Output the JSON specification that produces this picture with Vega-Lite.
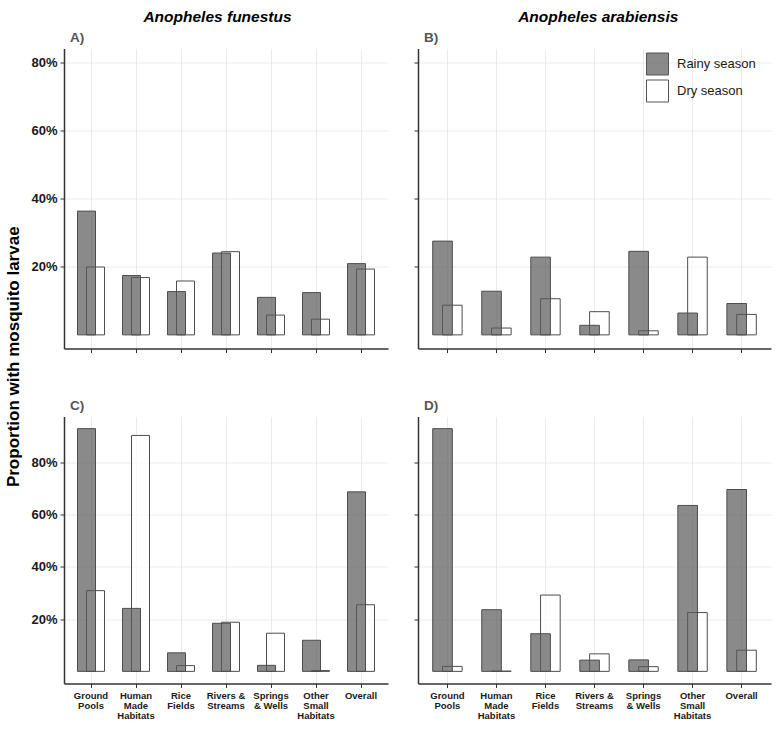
{
  "$schema": "https://vega.github.io/schema/vega-lite/v6.json",
  "padding": {"left": 4, "top": 9.5, "right": 8, "bottom": 4},
  "background": "#ffffff",
  "title": {"text": "Proportion with mosquito larvae", "orient": "left", "anchor": "middle", "fontSize": 17, "fontWeight": "bold", "color": "#000000", "font": "Liberation Sans", "offset": 8, "dx": 8},
  "datasets": {
    "larvae": [
      {"panel": "A", "species": "Anopheles funestus", "habitat": "Ground Pools", "season": "Dry season", "proportion": 0.199},
      {"panel": "A", "species": "Anopheles funestus", "habitat": "Human Made Habitats", "season": "Dry season", "proportion": 0.168},
      {"panel": "A", "species": "Anopheles funestus", "habitat": "Rice Fields", "season": "Dry season", "proportion": 0.158},
      {"panel": "A", "species": "Anopheles funestus", "habitat": "Rivers & Streams", "season": "Dry season", "proportion": 0.244},
      {"panel": "A", "species": "Anopheles funestus", "habitat": "Springs & Wells", "season": "Dry season", "proportion": 0.058},
      {"panel": "A", "species": "Anopheles funestus", "habitat": "Other Small Habitats", "season": "Dry season", "proportion": 0.046},
      {"panel": "A", "species": "Anopheles funestus", "habitat": "Overall", "season": "Dry season", "proportion": 0.193},
      {"panel": "A", "species": "Anopheles funestus", "habitat": "Ground Pools", "season": "Rainy season", "proportion": 0.363},
      {"panel": "A", "species": "Anopheles funestus", "habitat": "Human Made Habitats", "season": "Rainy season", "proportion": 0.174},
      {"panel": "A", "species": "Anopheles funestus", "habitat": "Rice Fields", "season": "Rainy season", "proportion": 0.127},
      {"panel": "A", "species": "Anopheles funestus", "habitat": "Rivers & Streams", "season": "Rainy season", "proportion": 0.240},
      {"panel": "A", "species": "Anopheles funestus", "habitat": "Springs & Wells", "season": "Rainy season", "proportion": 0.110},
      {"panel": "A", "species": "Anopheles funestus", "habitat": "Other Small Habitats", "season": "Rainy season", "proportion": 0.124},
      {"panel": "A", "species": "Anopheles funestus", "habitat": "Overall", "season": "Rainy season", "proportion": 0.209},

      {"panel": "B", "species": "Anopheles arabiensis", "habitat": "Ground Pools", "season": "Dry season", "proportion": 0.087},
      {"panel": "B", "species": "Anopheles arabiensis", "habitat": "Human Made Habitats", "season": "Dry season", "proportion": 0.020},
      {"panel": "B", "species": "Anopheles arabiensis", "habitat": "Rice Fields", "season": "Dry season", "proportion": 0.106},
      {"panel": "B", "species": "Anopheles arabiensis", "habitat": "Rivers & Streams", "season": "Dry season", "proportion": 0.068},
      {"panel": "B", "species": "Anopheles arabiensis", "habitat": "Springs & Wells", "season": "Dry season", "proportion": 0.012},
      {"panel": "B", "species": "Anopheles arabiensis", "habitat": "Other Small Habitats", "season": "Dry season", "proportion": 0.228},
      {"panel": "B", "species": "Anopheles arabiensis", "habitat": "Overall", "season": "Dry season", "proportion": 0.060},
      {"panel": "B", "species": "Anopheles arabiensis", "habitat": "Ground Pools", "season": "Rainy season", "proportion": 0.275},
      {"panel": "B", "species": "Anopheles arabiensis", "habitat": "Human Made Habitats", "season": "Rainy season", "proportion": 0.128},
      {"panel": "B", "species": "Anopheles arabiensis", "habitat": "Rice Fields", "season": "Rainy season", "proportion": 0.228},
      {"panel": "B", "species": "Anopheles arabiensis", "habitat": "Rivers & Streams", "season": "Rainy season", "proportion": 0.028},
      {"panel": "B", "species": "Anopheles arabiensis", "habitat": "Springs & Wells", "season": "Rainy season", "proportion": 0.245},
      {"panel": "B", "species": "Anopheles arabiensis", "habitat": "Other Small Habitats", "season": "Rainy season", "proportion": 0.064},
      {"panel": "B", "species": "Anopheles arabiensis", "habitat": "Overall", "season": "Rainy season", "proportion": 0.092},

      {"panel": "C", "species": "Anopheles funestus", "habitat": "Ground Pools", "season": "Dry season", "proportion": 0.309},
      {"panel": "C", "species": "Anopheles funestus", "habitat": "Human Made Habitats", "season": "Dry season", "proportion": 0.903},
      {"panel": "C", "species": "Anopheles funestus", "habitat": "Rice Fields", "season": "Dry season", "proportion": 0.022},
      {"panel": "C", "species": "Anopheles funestus", "habitat": "Rivers & Streams", "season": "Dry season", "proportion": 0.188},
      {"panel": "C", "species": "Anopheles funestus", "habitat": "Springs & Wells", "season": "Dry season", "proportion": 0.146},
      {"panel": "C", "species": "Anopheles funestus", "habitat": "Other Small Habitats", "season": "Dry season", "proportion": 0.003},
      {"panel": "C", "species": "Anopheles funestus", "habitat": "Overall", "season": "Dry season", "proportion": 0.255},
      {"panel": "C", "species": "Anopheles funestus", "habitat": "Ground Pools", "season": "Rainy season", "proportion": 0.929},
      {"panel": "C", "species": "Anopheles funestus", "habitat": "Human Made Habitats", "season": "Rainy season", "proportion": 0.241},
      {"panel": "C", "species": "Anopheles funestus", "habitat": "Rice Fields", "season": "Rainy season", "proportion": 0.071},
      {"panel": "C", "species": "Anopheles funestus", "habitat": "Rivers & Streams", "season": "Rainy season", "proportion": 0.184},
      {"panel": "C", "species": "Anopheles funestus", "habitat": "Springs & Wells", "season": "Rainy season", "proportion": 0.023},
      {"panel": "C", "species": "Anopheles funestus", "habitat": "Other Small Habitats", "season": "Rainy season", "proportion": 0.119},
      {"panel": "C", "species": "Anopheles funestus", "habitat": "Overall", "season": "Rainy season", "proportion": 0.687},

      {"panel": "D", "species": "Anopheles arabiensis", "habitat": "Ground Pools", "season": "Dry season", "proportion": 0.019},
      {"panel": "D", "species": "Anopheles arabiensis", "habitat": "Human Made Habitats", "season": "Dry season", "proportion": 0.001},
      {"panel": "D", "species": "Anopheles arabiensis", "habitat": "Rice Fields", "season": "Dry season", "proportion": 0.292},
      {"panel": "D", "species": "Anopheles arabiensis", "habitat": "Rivers & Streams", "season": "Dry season", "proportion": 0.067},
      {"panel": "D", "species": "Anopheles arabiensis", "habitat": "Springs & Wells", "season": "Dry season", "proportion": 0.018},
      {"panel": "D", "species": "Anopheles arabiensis", "habitat": "Other Small Habitats", "season": "Dry season", "proportion": 0.225},
      {"panel": "D", "species": "Anopheles arabiensis", "habitat": "Overall", "season": "Dry season", "proportion": 0.081},
      {"panel": "D", "species": "Anopheles arabiensis", "habitat": "Ground Pools", "season": "Rainy season", "proportion": 0.929},
      {"panel": "D", "species": "Anopheles arabiensis", "habitat": "Human Made Habitats", "season": "Rainy season", "proportion": 0.236},
      {"panel": "D", "species": "Anopheles arabiensis", "habitat": "Rice Fields", "season": "Rainy season", "proportion": 0.144},
      {"panel": "D", "species": "Anopheles arabiensis", "habitat": "Rivers & Streams", "season": "Rainy season", "proportion": 0.043},
      {"panel": "D", "species": "Anopheles arabiensis", "habitat": "Springs & Wells", "season": "Rainy season", "proportion": 0.044},
      {"panel": "D", "species": "Anopheles arabiensis", "habitat": "Other Small Habitats", "season": "Rainy season", "proportion": 0.635},
      {"panel": "D", "species": "Anopheles arabiensis", "habitat": "Overall", "season": "Rainy season", "proportion": 0.696}
    ]
  },
  "hconcat": [
    {
      "title": {"text": "Anopheles funestus", "anchor": "middle", "fontSize": 15.5, "fontStyle": "italic", "fontWeight": "bold", "color": "#000000", "font": "Liberation Sans", "offset": 6, "dx": 8},
      "spacing": 45,
      "vconcat": [
        {
          "width": 324, "height": 300,
          "title": {"text": "A)", "anchor": "start", "frame": "group", "dx": 6, "offset": 4, "fontSize": 13.5, "fontWeight": "bold", "color": "#555555", "font": "Liberation Sans"},
          "data": {"name": "larvae"},
          "transform": [{"filter": "datum.panel === 'A'"}],
          "encoding": {
            "x": {"field": "habitat", "type": "nominal", "title": null, "sort": ["Ground Pools", "Human Made Habitats", "Rice Fields", "Rivers & Streams", "Springs & Wells", "Other Small Habitats", "Overall"], "scale": {"paddingInner": 0, "paddingOuter": 0.1}, "axis": {"labels": false}},
            "y": {"field": "proportion", "type": "quantitative", "title": null, "scale": {"domain": [-0.04, 0.84], "nice": false, "zero": false}, "axis": {"values": [0.2, 0.4, 0.6, 0.8], "format": ".0%"}},
            "y2": {"datum": 0},
            "fill": {"field": "season", "type": "nominal", "scale": {"domain": ["Rainy season", "Dry season"], "range": ["#595959", "#ffffff"]}, "legend": null}
          },
          "layer": [
            {"transform": [{"filter": "datum.season === 'Dry season'"}], "mark": {"type": "bar", "width": {"band": 0.4}, "xOffset": 4.5, "stroke": "#4d4d4d", "strokeWidth": 1, "fillOpacity": 0.7}},
            {"transform": [{"filter": "datum.season === 'Rainy season'"}], "mark": {"type": "bar", "width": {"band": 0.4}, "xOffset": -4.5, "stroke": "#4d4d4d", "strokeWidth": 1, "fillOpacity": 0.7}}
          ]
        },
        {
          "width": 324, "height": 267,
          "title": {"text": "C)", "anchor": "start", "frame": "group", "dx": 6, "offset": 4, "fontSize": 13.5, "fontWeight": "bold", "color": "#555555", "font": "Liberation Sans"},
          "data": {"name": "larvae"},
          "transform": [{"filter": "datum.panel === 'C'"}],
          "encoding": {
            "x": {"field": "habitat", "type": "nominal", "title": null, "sort": ["Ground Pools", "Human Made Habitats", "Rice Fields", "Rivers & Streams", "Springs & Wells", "Other Small Habitats", "Overall"], "scale": {"paddingInner": 0, "paddingOuter": 0.1}, "axis": {"labelExpr": "datum.label == 'Ground Pools' ? ['Ground','Pools'] : datum.label == 'Human Made Habitats' ? ['Human','Made','Habitats'] : datum.label == 'Rice Fields' ? ['Rice','Fields'] : datum.label == 'Rivers & Streams' ? ['Rivers &','Streams'] : datum.label == 'Springs & Wells' ? ['Springs','& Wells'] : datum.label == 'Other Small Habitats' ? ['Other','Small','Habitats'] : datum.label"}},
            "y": {"field": "proportion", "type": "quantitative", "title": null, "scale": {"domain": [-0.04645, 0.97545], "nice": false, "zero": false}, "axis": {"values": [0.2, 0.4, 0.6, 0.8], "format": ".0%"}},
            "y2": {"datum": 0},
            "fill": {"field": "season", "type": "nominal", "scale": {"domain": ["Rainy season", "Dry season"], "range": ["#595959", "#ffffff"]}, "legend": null}
          },
          "layer": [
            {"transform": [{"filter": "datum.season === 'Dry season'"}], "mark": {"type": "bar", "width": {"band": 0.4}, "xOffset": 4.5, "stroke": "#4d4d4d", "strokeWidth": 1, "fillOpacity": 0.7}},
            {"transform": [{"filter": "datum.season === 'Rainy season'"}], "mark": {"type": "bar", "width": {"band": 0.4}, "xOffset": -4.5, "stroke": "#4d4d4d", "strokeWidth": 1, "fillOpacity": 0.7}}
          ]
        }
      ],
      "resolve": {"scale": {"y": "independent"}, "legend": {"fill": "independent"}}
    },
    {
      "title": {"text": "Anopheles arabiensis", "anchor": "middle", "fontSize": 15.5, "fontStyle": "italic", "fontWeight": "bold", "color": "#000000", "font": "Liberation Sans", "offset": 6, "dx": 6},
      "spacing": 45,
      "vconcat": [
        {
          "width": 353, "height": 300,
          "title": {"text": "B)", "anchor": "start", "frame": "group", "dx": 6, "offset": 4, "fontSize": 13.5, "fontWeight": "bold", "color": "#555555", "font": "Liberation Sans"},
          "data": {"name": "larvae"},
          "transform": [{"filter": "datum.panel === 'B'"}],
          "encoding": {
            "x": {"field": "habitat", "type": "nominal", "title": null, "sort": ["Ground Pools", "Human Made Habitats", "Rice Fields", "Rivers & Streams", "Springs & Wells", "Other Small Habitats", "Overall"], "scale": {"paddingInner": 0, "paddingOuter": 0.1}, "axis": {"labels": false}},
            "y": {"field": "proportion", "type": "quantitative", "title": null, "scale": {"domain": [-0.04, 0.84], "nice": false, "zero": false}, "axis": {"values": [0.2, 0.4, 0.6, 0.8], "labels": false}},
            "y2": {"datum": 0},
            "fill": {"field": "season", "type": "nominal", "scale": {"domain": ["Rainy season", "Dry season"], "range": ["#595959", "#ffffff"]},
              "legend": {"title": null, "orient": "none", "legendX": 228, "legendY": 4, "padding": 0, "symbolType": "square", "symbolSize": 484, "symbolStrokeColor": "#555555", "symbolStrokeWidth": 1, "labelFontSize": 13, "labelFont": "Liberation Sans", "labelColor": "#1a1a1a", "labelOffset": 8, "rowPadding": 0,
                "encode": {"symbols": {"update": {"fillOpacity": {"value": 0.7}}}}}}
          },
          "layer": [
            {"transform": [{"filter": "datum.season === 'Dry season'"}], "mark": {"type": "bar", "width": {"band": 0.4}, "xOffset": 4.9, "stroke": "#4d4d4d", "strokeWidth": 1, "fillOpacity": 0.7}},
            {"transform": [{"filter": "datum.season === 'Rainy season'"}], "mark": {"type": "bar", "width": {"band": 0.4}, "xOffset": -4.9, "stroke": "#4d4d4d", "strokeWidth": 1, "fillOpacity": 0.7}}
          ]
        },
        {
          "width": 353, "height": 267,
          "title": {"text": "D)", "anchor": "start", "frame": "group", "dx": 6, "offset": 4, "fontSize": 13.5, "fontWeight": "bold", "color": "#555555", "font": "Liberation Sans"},
          "data": {"name": "larvae"},
          "transform": [{"filter": "datum.panel === 'D'"}],
          "encoding": {
            "x": {"field": "habitat", "type": "nominal", "title": null, "sort": ["Ground Pools", "Human Made Habitats", "Rice Fields", "Rivers & Streams", "Springs & Wells", "Other Small Habitats", "Overall"], "scale": {"paddingInner": 0, "paddingOuter": 0.1}, "axis": {"labelExpr": "datum.label == 'Ground Pools' ? ['Ground','Pools'] : datum.label == 'Human Made Habitats' ? ['Human','Made','Habitats'] : datum.label == 'Rice Fields' ? ['Rice','Fields'] : datum.label == 'Rivers & Streams' ? ['Rivers &','Streams'] : datum.label == 'Springs & Wells' ? ['Springs','& Wells'] : datum.label == 'Other Small Habitats' ? ['Other','Small','Habitats'] : datum.label"}},
            "y": {"field": "proportion", "type": "quantitative", "title": null, "scale": {"domain": [-0.04645, 0.97545], "nice": false, "zero": false}, "axis": {"values": [0.2, 0.4, 0.6, 0.8], "labels": false}},
            "y2": {"datum": 0},
            "fill": {"field": "season", "type": "nominal", "scale": {"domain": ["Rainy season", "Dry season"], "range": ["#595959", "#ffffff"]}, "legend": null}
          },
          "layer": [
            {"transform": [{"filter": "datum.season === 'Dry season'"}], "mark": {"type": "bar", "width": {"band": 0.4}, "xOffset": 4.9, "stroke": "#4d4d4d", "strokeWidth": 1, "fillOpacity": 0.7}},
            {"transform": [{"filter": "datum.season === 'Rainy season'"}], "mark": {"type": "bar", "width": {"band": 0.4}, "xOffset": -4.9, "stroke": "#4d4d4d", "strokeWidth": 1, "fillOpacity": 0.7}}
          ]
        }
      ],
      "resolve": {"scale": {"y": "independent"}, "legend": {"fill": "independent"}}
    }
  ],
  "spacing": 25,
  "resolve": {"scale": {"y": "independent", "x": "independent"}, "legend": {"fill": "independent"}},
  "config": {
    "font": "Liberation Sans",
    "view": {"stroke": null},
    "axis": {"domainColor": "#333333", "domainWidth": 1.5, "tickColor": "#333333", "tickSize": 4, "tickWidth": 1, "gridColor": "#e6e6e6", "gridWidth": 0.8, "labelFont": "Liberation Sans", "labelFontWeight": "bold", "labelColor": "#1a1a1a"},
    "axisX": {"labelFontSize": 9.5, "labelAngle": 0, "labelLineHeight": 10, "labelPadding": 3, "bandPosition": 0.5, "grid": true},
    "axisY": {"labelFontSize": 13, "labelPadding": 3}
  }
}
